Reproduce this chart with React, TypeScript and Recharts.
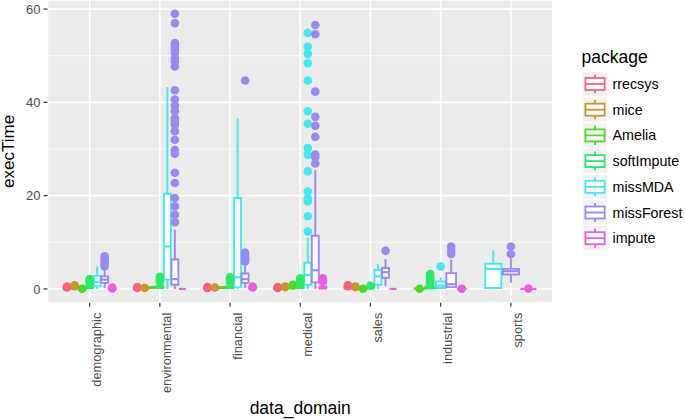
import React from 'react';
import { ComposedChart, XAxis, YAxis, CartesianGrid, Scatter, ReferenceArea, ReferenceLine } from 'recharts';

const categories = ['demographic', 'environmental', 'financial', 'medical', 'sales', 'industrial', 'sports'];
const packages = ['rrecsys', 'mice', 'Amelia', 'softImpute', 'missMDA', 'missForest', 'impute'];
const palette = ['#F2647A', '#C8962B', '#4CD92A', '#2EE86A', '#45E8F0', '#9A8AF0', '#E860E0'];
const yTicks = [0, 20, 40, 60];
const yMinorTicks = [10, 30, 50];

// [lower whisker, q1, median, q3, upper whisker] per category (null = no data)
const rrecsysStats = [
  [0, 0, 0.05, 0.1, 0.2],
  [0, 0, 0.05, 0.1, 0.2],
  [0, 0, 0.05, 0.1, 0.2],
  [0, 0, 0.05, 0.1, 0.2],
  [0, 0.1, 0.2, 0.3, 0.5],
  null,
  null,
];
const rrecsysOutliers = [[0.3, 0.5], [0.2, 0.4], [0.2, 0.4], [0.2, 0.4], [0.6, 0.8], [], []];

const miceStats = [
  [0.1, 0.2, 0.3, 0.4, 0.5],
  [0, 0, 0.05, 0.1, 0.15],
  [0, 0, 0.05, 0.1, 0.2],
  [0, 0.1, 0.15, 0.2, 0.3],
  [0, 0.1, 0.15, 0.2, 0.3],
  null,
  null,
];
const miceOutliers = [[0.6, 0.8], [0.2], [0.3], [0.4, 0.5], [0.4, 0.5], [], []];

const ameliaStats = [
  [0, 0, 0.05, 0.1, 0.15],
  [0.1, 0.2, 0.3, 0.4, 0.5],
  [0.1, 0.2, 0.3, 0.4, 0.5],
  [0.1, 0.2, 0.3, 0.4, 0.5],
  [0, 0, 0.05, 0.1, 0.15],
  [0, 0, 0.05, 0.1, 0.15],
  null,
];
const ameliaOutliers = [[0.05], [], [], [0.7, 0.9], [0.05], [0.05], []];

const softImputeStats = [
  [0, 0.2, 0.4, 0.7, 1.1],
  [0, 0.2, 0.4, 0.7, 1.2],
  [0, 0.2, 0.4, 0.6, 1.0],
  [0, 0.2, 0.5, 0.8, 1.2],
  [0, 0.1, 0.2, 0.35, 0.5],
  [0, 0.1, 0.3, 0.5, 0.9],
  null,
];
const softImputeOutliers = [[1.3, 1.7, 2.1], [1.6, 2.1, 2.6], [1.5, 2.0, 2.5], [1.4, 1.9, 2.3], [0.7], [1.2, 1.6, 2.0, 2.4, 2.8, 3.2], []];

const missMDAStats = [
  [0, 0.6, 1.5, 2.8, 4.8],
  [0, 2.0, 9.1, 20.4, 43.3],
  [0, 0.4, 2.5, 19.5, 36.6],
  [0, 0.9, 3.0, 5.6, 11.0],
  [0, 0.9, 2.7, 4.1, 5.4],
  [0, 0.2, 0.7, 1.6, 2.5],
  [0, 0.2, 4.3, 5.4, 8.3],
];
const missMDAOutliers = [
  [],
  [],
  [],
  [12.3, 15.6, 18.8, 19.5, 20.9, 25.2, 28.8, 30.2, 35.4, 38.1, 44.7, 48.4, 50.4, 51.9, 54.9],
  [],
  [4.8],
  [],
];

const missForestStats = [
  [0.2, 1.3, 2.0, 2.7, 4.2],
  [0, 0.9, 2.1, 6.3, 12.7],
  [0.2, 1.3, 2.1, 3.3, 5.6],
  [0, 1.4, 4.0, 11.4, 25.5],
  [0.6, 2.4, 3.6, 4.5, 6.4],
  [0.2, 0.4, 1.0, 3.4, 6.3],
  [1.3, 3.1, 3.8, 4.3, 6.6],
];
const missForestOutliers = [
  [4.9, 5.3, 5.7, 6.1, 6.5, 7.0],
  [14.3, 15.9, 17.7, 19.5, 22.7, 24.9, 29.0, 29.8, 32.0, 33.8, 35.2, 35.9, 36.6, 38.1, 39.3, 40.6, 42.6, 47.7, 48.8, 49.5, 50.6, 51.3, 52.0, 52.7, 57.0, 59.0],
  [5.9, 6.3, 6.8, 7.3, 7.8, 44.7],
  [26.9, 28.3, 28.8, 32.6, 35.0, 36.9, 42.3, 54.6, 56.6],
  [8.2],
  [7.5, 8.2, 9.1],
  [7.5, 9.1],
];

const imputeStats = [
  [0, 0, 0.05, 0.1, 0.15],
  [0, 0, 0, 0, 0],
  [0, 0.1, 0.15, 0.2, 0.3],
  [0, 0.1, 0.2, 0.5, 0.8],
  [0, 0, 0, 0, 0],
  [0, 0, 0, 0, 0],
  [0, 0, 0, 0, 0],
];
const imputeOutliers = [[0.1, 0.3], [], [0.3, 0.5], [1.5, 1.9, 2.3], [], [0.05], [0.1]];

const allStats = [rrecsysStats, miceStats, ameliaStats, softImputeStats, missMDAStats, missForestStats, imputeStats];
const allOutliers = [rrecsysOutliers, miceOutliers, ameliaOutliers, softImputeOutliers, missMDAOutliers, missForestOutliers, imputeOutliers];

const FONT = '"Liberation Sans", Arial, Helvetica, sans-serif';
const DODGE = 0.75;
const BOX_FRAC = 0.92;
const LW = 1.9;

// compute dodge positions in data units (category i sits at i+1)
type Box = { pkg: number; cat: number; pos: number; half: number; s: number[]; out: number[] };
const boxes: Box[] = [];
categories.forEach((_, ci) => {
  const present = packages.map((_, pi) => pi).filter((pi) => allStats[pi][ci] !== null);
  const n = present.length;
  const step = DODGE / n;
  present.forEach((pi, j) => {
    const pos = ci + 1 + (j - (n - 1) / 2) * step;
    boxes.push({ pkg: pi, cat: ci, pos, half: (step * BOX_FRAC) / 2, s: allStats[pi][ci] as number[], out: allOutliers[pi][ci] });
  });
});

const XTick = (props: any) => {
  const { x, y, payload } = props;
  const label = categories[Math.round(payload.value) - 1];
  return (
    <g transform={`translate(${x},${y})`}>
      <text transform="rotate(-90)" x={0} y={0} dy={11.5} textAnchor="end" fontSize={12.8} fill="#4D4D4D" fontFamily={FONT}>
        {label}
      </text>
    </g>
  );
};

const YTitle = (props: any) => {
  const vb = props.viewBox || { x: 0, y: 0, width: 47.5, height: 302.7 };
  const cx = vb.x + 8.5;
  const cy = vb.y + vb.height / 2;
  return (
    <text x={cx} y={cy} transform={`rotate(-90, ${cx}, ${cy})`} textAnchor="middle" dominantBaseline="central" fontSize={17} fill="#000" fontFamily={FONT}>
      execTime
    </text>
  );
};

const XTitle = (props: any) => {
  const vb = props.viewBox || { x: 47.5, y: 302.7, width: 505.5, height: 116.3 };
  return (
    <text x={vb.x + vb.width / 2} y={414} textAnchor="middle" fontSize={17.5} fill="#000" fontFamily={FONT}>
      data_domain
    </text>
  );
};

const Legend = () => {
  const top0 = 84;
  const gap = 25.7;
  return (
    <svg width={685} height={419} style={{ position: 'absolute', left: 0, top: 0, pointerEvents: 'none' }}>
      <text x={581.5} y={63} fontSize={17.5} fill="#000" fontFamily={FONT}>package</text>
      {packages.map((p, k) => {
        const cy = top0 + k * gap;
        const kx = 583;
        const kw = 24;
        const c = palette[k];
        return (
          <g key={p}>
            <rect x={kx} y={cy - 12} width={kw} height={24} fill="#F2F2F2" />
            <line x1={kx + kw / 2} x2={kx + kw / 2} y1={cy - 9.6} y2={cy - 6} stroke={c} strokeWidth={1.8} />
            <line x1={kx + kw / 2} x2={kx + kw / 2} y1={cy + 6} y2={cy + 9.6} stroke={c} strokeWidth={1.8} />
            <rect x={kx + 2.4} y={cy - 6} width={kw - 4.8} height={12} fill="#FFFFFF" stroke={c} strokeWidth={1.8} />
            <line x1={kx + 2.4} x2={kx + kw - 2.4} y1={cy} y2={cy} stroke={c} strokeWidth={1.8} />
            <text x={612.5} y={cy + 5} fontSize={14.3} fill="#000" fontFamily={FONT}>{p}</text>
          </g>
        );
      })}
    </svg>
  );
};

export default function App() {
  return (
    <div style={{ position: 'absolute', left: 0, top: 0, width: 685, height: 419, background: '#FFFFFF', fontFamily: FONT }}>
      <ComposedChart width={685} height={419} margin={{ top: 0, right: 132, bottom: 0, left: 0 }}>
        <CartesianGrid fill="#EBEBEB" stroke="#FFFFFF" strokeWidth={0.8} vertical={false} horizontalValues={yMinorTicks} />
        <CartesianGrid stroke="#FFFFFF" strokeWidth={1.6} />
        <XAxis
          dataKey="x"
          type="number"
          domain={[0.4, 7.6]}
          ticks={[1, 2, 3, 4, 5, 6, 7]}
          allowDataOverflow
          height={116.3}
          axisLine={false}
          tickLine={{ stroke: '#333333', strokeWidth: 1.2 }}
          tickSize={4}
          tickMargin={6}
          tick={<XTick />}
          interval={0}
          label={<XTitle />}
        />
        <YAxis
          type="number"
          domain={[-2.95, 61.95]}
          ticks={yTicks}
          allowDataOverflow
          width={47.5}
          axisLine={false}
          tickLine={{ stroke: '#333333', strokeWidth: 1.2 }}
          tickSize={4}
          tickMargin={3}
          tick={{ fill: '#4D4D4D', fontSize: 13, fontFamily: FONT }}
          label={<YTitle />}
        />
        {boxes.map((b, i) => {
          const c = palette[b.pkg];
          const [lo, q1, med, q3, hi] = b.s;
          return (
            <React.Fragment key={`b${i}`}>
              <ReferenceLine segment={[{ x: b.pos, y: lo }, { x: b.pos, y: q1 }]} stroke={c} strokeWidth={LW} ifOverflow="visible" />
              <ReferenceLine segment={[{ x: b.pos, y: q3 }, { x: b.pos, y: hi }]} stroke={c} strokeWidth={LW} ifOverflow="visible" />
              <ReferenceArea x1={b.pos - b.half} x2={b.pos + b.half} y1={q1} y2={q3} fill="#FFFFFF" fillOpacity={1} stroke={c} strokeWidth={LW} ifOverflow="visible" />
              <ReferenceLine segment={[{ x: b.pos - b.half, y: med }, { x: b.pos + b.half, y: med }]} stroke={c} strokeWidth={LW + 0.3} ifOverflow="visible" />
            </React.Fragment>
          );
        })}
        {packages.map((p, pi) => {
          const pts = boxes.filter((b) => b.pkg === pi).flatMap((b) => b.out.map((v) => ({ x: b.pos, y: v })));
          return (
            <Scatter
              key={p}
              name={p}
              data={pts}
              dataKey="y"
              isAnimationActive={false}
              shape={(sp: any) => <circle cx={sp.cx} cy={sp.cy} r={4.3} fill={palette[pi]} />}
            />
          );
        })}
      </ComposedChart>
      <Legend />
    </div>
  );
}
